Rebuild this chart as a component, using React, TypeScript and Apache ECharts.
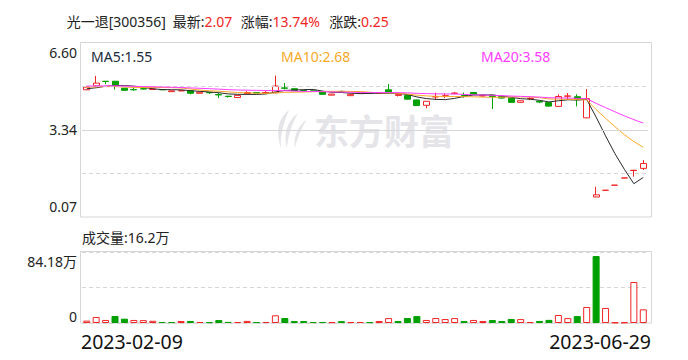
import React, { useEffect, useRef } from 'react';
import * as echarts from 'echarts';

// ---------- data ----------
const stockName = '光一退';
const stockCode = '300356';
const dateLabels = ['2023-02-09', '2023-06-29'];
const priceMin = 0.07;
const priceMax = 6.6;
const priceTickLabels = [6.6, 3.34, 0.07];
const volAxisMax = 84.18; // 万

// closes of the 19 sessions before the first drawn candle (for moving averages)
const priorCloses = [5.02, 5.05, 4.98, 5.0, 5.03, 4.99, 5.01, 5.04, 4.97, 5.01, 4.98, 5.02, 4.99, 5.0, 4.96, 4.9, 4.86, 4.83, 4.83];

// [open, close, low, high]
const ohlc: number[][] = [
  [4.83, 4.93, 4.82, 4.95], [4.98, 5.08, 4.96, 5.35], [5.15, 5.14, 5.04, 5.16], [5.15, 4.98, 4.84, 5.16], [4.89, 4.81, 4.79, 4.9],
  [4.84, 4.83, 4.8, 4.95], [4.87, 4.86, 4.84, 4.89], [4.84, 4.86, 4.83, 4.87], [4.84, 4.83, 4.82, 4.85], [4.76, 4.79, 4.75, 4.8],
  [4.79, 4.8, 4.78, 4.81], [4.79, 4.7, 4.66, 4.8], [4.7, 4.74, 4.69, 4.75], [4.73, 4.72, 4.68, 4.74], [4.65, 4.64, 4.52, 4.72],
  [4.59, 4.58, 4.54, 4.6], [4.54, 4.62, 4.53, 4.63], [4.69, 4.73, 4.68, 4.78], [4.73, 4.71, 4.7, 4.74], [4.71, 4.73, 4.7, 4.78],
  [4.72, 4.97, 4.7, 5.36], [4.9, 4.89, 4.84, 5.08], [4.87, 4.8, 4.78, 4.88], [4.81, 4.79, 4.77, 4.82], [4.79, 4.77, 4.76, 4.8],
  [4.75, 4.66, 4.65, 4.76], [4.63, 4.67, 4.62, 4.68], [4.77, 4.75, 4.73, 4.8], [4.61, 4.66, 4.6, 4.67], [4.69, 4.7, 4.68, 4.71],
  [4.71, 4.69, 4.68, 4.72], [4.7, 4.71, 4.69, 4.72], [4.83, 4.73, 4.72, 5.05], [4.62, 4.66, 4.58, 4.68], [4.62, 4.48, 4.47, 4.63],
  [4.45, 4.24, 4.23, 4.46], [4.25, 4.4, 4.14, 4.41], [4.56, 4.58, 4.45, 4.72], [4.59, 4.61, 4.52, 4.7], [4.69, 4.71, 4.66, 4.74],
  [4.62, 4.61, 4.53, 4.73], [4.73, 4.66, 4.65, 4.74], [4.6, 4.61, 4.57, 4.64], [4.63, 4.58, 4.11, 4.64], [4.57, 4.52, 4.5, 4.58],
  [4.51, 4.36, 4.35, 4.52], [4.36, 4.42, 4.35, 4.43], [4.5, 4.51, 4.44, 4.55], [4.4, 4.37, 4.33, 4.42], [4.35, 4.22, 4.2, 4.36],
  [4.21, 4.58, 4.2, 4.66], [4.59, 4.6, 4.46, 4.71], [4.57, 4.46, 4.21, 4.66], [3.78, 4.5, 3.77, 4.86], [0.82, 0.9, 0.81, 1.2],
  [1.07, 1.07, 1.07, 1.07], [1.26, 1.26, 1.26, 1.26], [1.53, 1.53, 1.53, 1.53], [1.81, 1.82, 1.58, 1.83], [1.89, 2.07, 1.83, 2.2],
];

// volume, 万
const volumes = [
  2.8, 7.1, 3.6, 8.3, 5.1, 3.6, 3.4, 2.6, 1.2, 1.1,
  2.3, 2.4, 1.2, 1.0, 3.5, 1.3, 1.2, 2.5, 1.1, 1.2,
  9.1, 5.9, 2.3, 2.4, 1.1, 1.2, 1.0, 2.2, 1.1, 1.2,
  1.0, 2.4, 5.8, 2.3, 5.9, 8.2, 3.6, 5.9, 4.7, 5.8,
  2.4, 3.6, 2.3, 3.5, 2.4, 4.8, 4.6, 1.1, 2.4, 3.7,
  9.5, 5.8, 8.2, 19.0, 79.4, 17.8, 0.6, 0.7, 48.6, 16.2,
];

// 1 = closed at or above previous close (red, hollow), 0 = below (green, filled)
const volumeUp = [
  1, 1, 1, 0, 0, 1, 1, 1, 0, 0,
  1, 0, 1, 0, 0, 0, 1, 1, 0, 1,
  1, 0, 0, 0, 0, 0, 1, 0, 1, 1,
  0, 1, 1, 0, 0, 0, 1, 1, 1, 1,
  0, 1, 1, 0, 0, 0, 1, 1, 0, 0,
  1, 1, 0, 1, 0, 1, 1, 1, 1, 1,
];

const maPeriods = [5, 10, 20];

// ---------- styling ----------
const RED = '#f22525';
const GREEN = '#00a000';
const GRIDC = '#d6d6d6';
const FONT = '"Noto Sans","Noto Sans CJK SC",sans-serif';
const MA_COLORS = ['#2a2a2a', '#f7a928', '#ff3cff'];

const logoPath =
  'M14 0 C4 8 0 20 6 38 C5 26 8 14 14 0 Z M23 3 C12 11 8 24 12 38 C13 27 16 15 23 3 Z M32 9 C22 17 18 28 20 38 C22 28 26 19 32 9 Z';
echarts.graphic.registerShape('emLogo', echarts.graphic.extendPath(logoPath, {}));

const closes = ohlc.map((d) => d[1]);
const allCloses = priorCloses.concat(closes);
function movingAverage(period: number): number[] {
  return closes.map((_, i) => {
    const end = i + priorCloses.length;
    let s = 0;
    for (let k = end - period + 1; k <= end; k++) s += allCloses[k];
    return s / period;
  });
}
const maSeries = maPeriods.map((p) => movingAverage(p));

function buildOption(): any {
  const n = ohlc.length;
  const cats = ohlc.map((_, i) => String(i + 1));
  const last = closes[n - 1];
  const prev = closes[n - 2];
  const change = last - prev;
  const pct = (change / prev) * 100;
  const step = (priceMax - priceMin) / 4;

  const text = (t: string, x: number, y: number, fill: string, size = 14, align = 'left', extra: any = {}) => ({
    type: 'text',
    x,
    y,
    silent: true,
    z: 10,
    style: {
      text: t,
      fill,
      fontSize: size,
      fontFamily: FONT,
      align,
      textAlign: align,
      verticalAlign: 'middle',
      textVerticalAlign: 'middle',
      ...extra,
    },
  });
  const richKV = (k: string, v: string, x: number) =>
    text(`{k|${k}}{v|${v}}`, x, 21.5, '#222', 14, 'left', {
      rich: {
        k: { fill: '#222', color: '#222', fontSize: 14, fontFamily: FONT },
        v: { fill: RED, color: RED, fontSize: 14, fontFamily: FONT },
      },
    });

  const maX = [91, 281, 481];

  return {
    animation: false,
    backgroundColor: '#fff',
    grid: [
      { left: 82, right: 40, top: 42.5, height: 174.5 },
      { left: 82, right: 40, top: 252, height: 71 },
    ],
    xAxis: [
      { type: 'category', gridIndex: 0, data: cats, show: false },
      { type: 'category', gridIndex: 1, data: cats, show: false },
    ],
    yAxis: [
      {
        type: 'value',
        gridIndex: 0,
        min: priceMin,
        max: priceMax,
        splitLine: { show: false },
        axisLine: { show: false },
        axisTick: { show: false },
        axisLabel: {
          customValues: priceTickLabels,
          margin: 5,
          color: '#222',
          fontSize: 14,
          fontFamily: FONT,
          formatter: (v: number) => {
            const s = v.toFixed(2);
            if (Math.abs(v - priceMax) < 1e-9) return `{t|${s}}`;
            if (Math.abs(v - priceMin) < 1e-9) return `{b|${s}}`;
            return s;
          },
          rich: {
            t: { padding: [20, 0, 0, 0], fontSize: 14, fontFamily: FONT, color: '#222' },
            b: { padding: [0, 0, 22, 0], fontSize: 14, fontFamily: FONT, color: '#222' },
          },
        },
      },
      {
        type: 'value',
        gridIndex: 1,
        min: 0,
        max: volAxisMax,
        interval: volAxisMax / 2,
        splitLine: { show: true, lineStyle: { color: GRIDC, type: [4, 3], width: 1 } },
        axisLine: { show: false },
        axisTick: { show: false },
        axisLabel: {
          margin: 5,
          color: '#222',
          fontSize: 14,
          fontFamily: FONT,
          formatter: (v: number) => {
            if (Math.abs(v) < 1e-9) return '{b|0}';
            if (Math.abs(v - volAxisMax) < 1e-6) return `{t|${volAxisMax.toFixed(2)}万}`;
            return '';
          },
          rich: {
            t: { padding: [19, 0, 0, 0], fontSize: 14, fontFamily: FONT, color: '#222' },
            b: { padding: [0, 0, 14, 0], fontSize: 14, fontFamily: FONT, color: '#222' },
          },
        },
      },
    ],
    series: [
      {
        type: 'line',
        name: 'grid',
        xAxisIndex: 0,
        yAxisIndex: 0,
        data: closes.map(() => '-'),
        showSymbol: false,
        silent: true,
        z: 1,
        lineStyle: { opacity: 0 },
        markLine: {
          silent: true,
          symbol: ['none', 'none'],
          label: { show: false },
          animation: false,
          data: [
            { yAxis: priceMin + step * 3, lineStyle: { color: GRIDC, type: [4, 3], width: 1 } },
            { yAxis: priceMin + step * 2, lineStyle: { color: GRIDC, type: 'solid', width: 1 } },
            { yAxis: priceMin + step, lineStyle: { color: GRIDC, type: [4, 3], width: 1 } },
          ],
        },
      },
      {
        type: 'candlestick',
        xAxisIndex: 0,
        yAxisIndex: 0,
        data: ohlc,
        barWidth: 6.5,
        z: 2,
        itemStyle: {
          color: '#ffffff',
          color0: GREEN,
          borderColor: RED,
          borderColor0: GREEN,
          borderColorDoji: RED,
          borderWidth: 1,
        },
      },
      ...maSeries.map((d, i) => ({
        type: 'line',
        xAxisIndex: 0,
        yAxisIndex: 0,
        data: d,
        showSymbol: false,
        symbol: 'none',
        silent: true,
        z: 3 + i,
        lineStyle: { color: MA_COLORS[i], width: 1 },
      })),
      {
        type: 'bar',
        xAxisIndex: 1,
        yAxisIndex: 1,
        barWidth: 7,
        data: volumes.map((v, i) => ({
          value: v,
          itemStyle: volumeUp[i]
            ? { color: '#ffffff', borderColor: RED, borderWidth: 1 }
            : { color: GREEN, borderColor: GREEN, borderWidth: 1 },
        })),
      },
    ],
    graphic: [
      {
        type: 'rect',
        silent: true,
        z: 0,
        shape: { x: 80.5, y: 42.5, width: 571, height: 174.5 },
        style: { fill: 'none', stroke: GRIDC, lineWidth: 1 },
      },
      {
        type: 'rect',
        silent: true,
        z: 0,
        shape: { x: 80.5, y: 251.5, width: 571, height: 71.5 },
        style: { fill: 'none', stroke: GRIDC, lineWidth: 1 },
      },
      { type: 'emLogo', x: 275, y: 110, silent: true, z: 0, style: { fill: '#e5e5e9' } },
      {
        type: 'text',
        x: 314,
        y: 129.5,
        silent: true,
        z: 0,
        style: {
          text: '东方财富',
          fill: '#e5e5e9',
          fontSize: 35,
          fontWeight: 'bold',
          fontFamily: '"Noto Sans CJK SC",sans-serif',
          verticalAlign: 'middle',
          textVerticalAlign: 'middle',
        },
      },
      text(`${stockName}[${stockCode}]`, 66.7, 21.5, '#222'),
      richKV('最新:', last.toFixed(2), 172.7),
      richKV('涨幅:', pct.toFixed(2) + '%', 240.7),
      richKV('涨跌:', change.toFixed(2), 329.3),
      ...maSeries.map((d, i) => text(`MA${maPeriods[i]}:${d[n - 1].toFixed(2)}`, maX[i], 56, MA_COLORS[i] === '#2a2a2a' ? '#1a2a3a' : MA_COLORS[i])),
      text(`成交量:${volumes[n - 1]}万`, 82, 237, '#222'),
      text(dateLabels[0], 81, 341, '#111', 19.5, 'left'),
      text(dateLabels[1], 651, 341, '#111', 19.5, 'right'),
    ],
  };
}

export default function App() {
  const ref = useRef<HTMLDivElement>(null);
  useEffect(() => {
    const chart = echarts.init(ref.current as HTMLDivElement, null, { renderer: 'svg' });
    chart.setOption(buildOption());
    return () => chart.dispose();
  }, []);
  return (
    <div
      ref={ref}
      style={{ position: 'fixed', left: 0, top: 0, width: 688, height: 360, background: '#fff' }}
    />
  );
}
